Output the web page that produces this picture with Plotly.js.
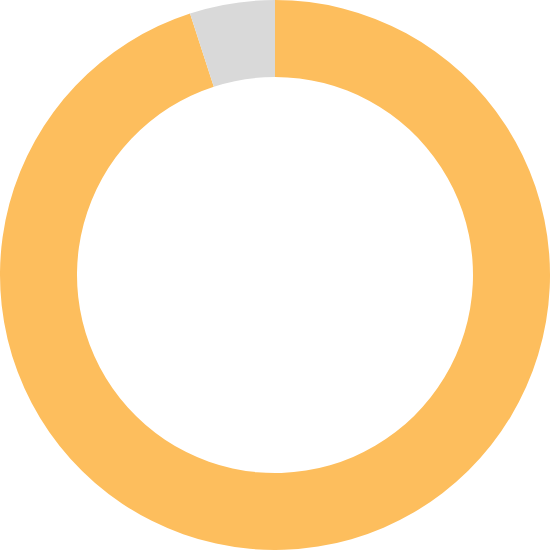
<!DOCTYPE html>
<html>
<head>
<meta charset="utf-8">
<script src="https://cdn.plot.ly/plotly-3.0.1.min.js"></script>
<style>
  html, body { margin: 0; padding: 0; background: #fff; }
  #chart { width: 550px; height: 550px; }
</style>
</head>
<body>
<div id="chart"></div>
<script>
// share of the whole
var labels = ['Done', 'Remaining'];
var values = [95, 5];
var colors = ['#FDBE5D', '#D9D9D9'];

Plotly.newPlot('chart', [{
  type: 'pie',
  labels: labels,
  values: values,
  hole: 0.72,
  sort: false,
  direction: 'clockwise',
  rotation: 0,
  textinfo: 'none',
  hoverinfo: 'none',
  marker: { colors: colors, line: { width: 0 } }
}], {
  width: 550,
  height: 550,
  margin: { l: 0, r: 0, t: 0, b: 0 },
  showlegend: false,
  paper_bgcolor: '#fff'
}, { displayModeBar: false, staticPlot: true });
</script>
</body>
</html>
